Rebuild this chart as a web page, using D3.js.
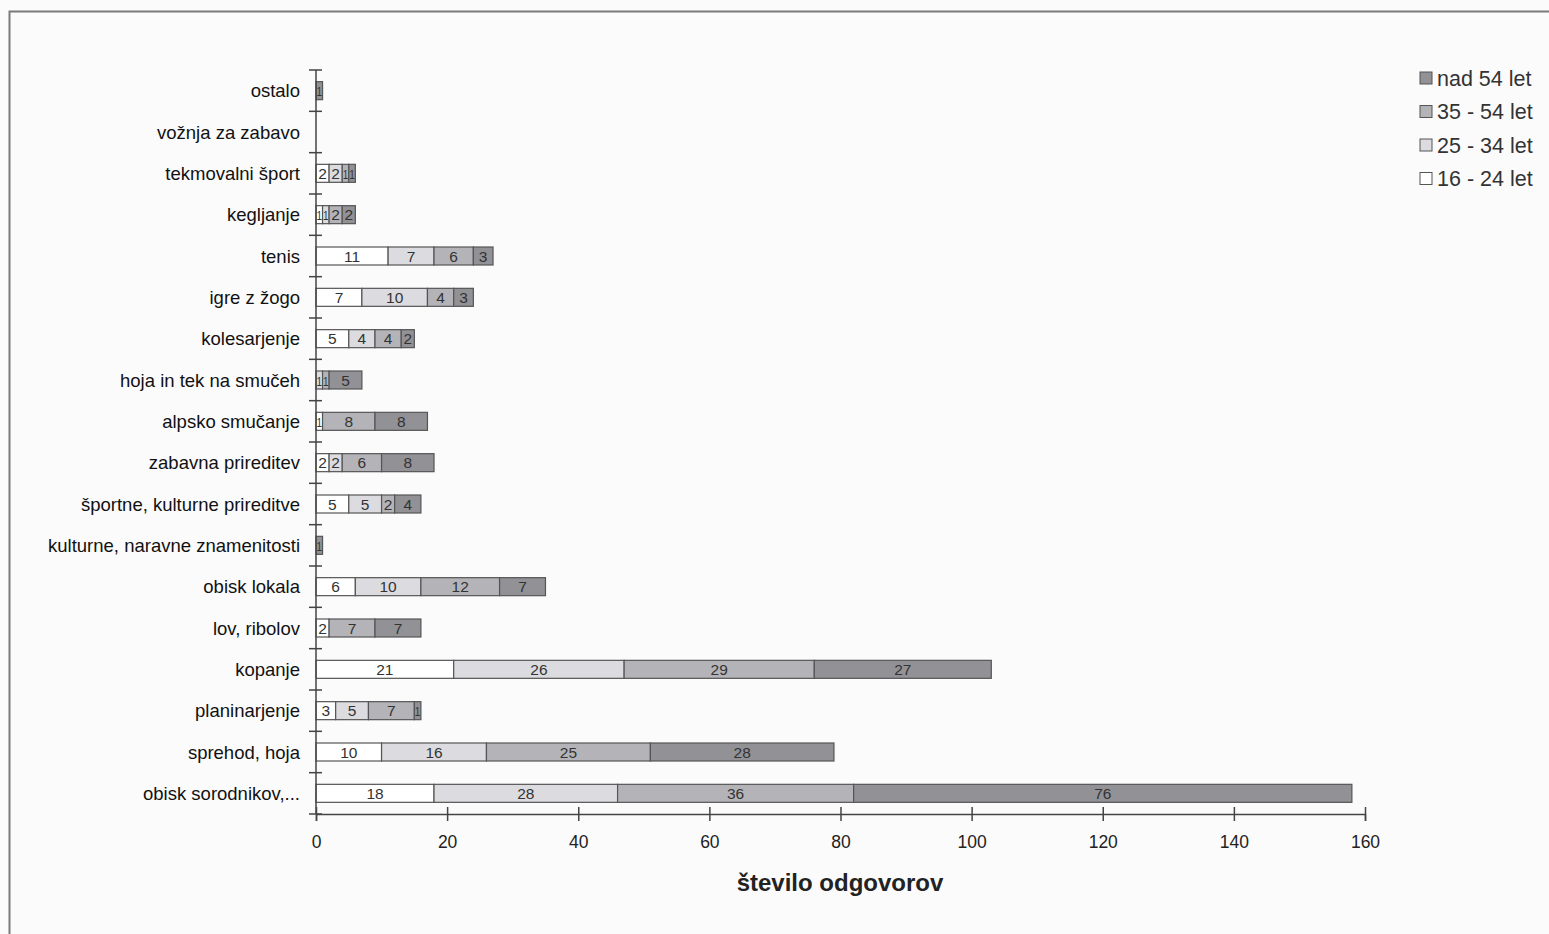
<!DOCTYPE html>
<html>
<head>
<meta charset="utf-8">
<script src="https://cdn.jsdelivr.net/npm/d3@7"></script>
<style>
html,body{margin:0;padding:0;background:#fbfbfb;}
svg{display:block;font-family:"Liberation Sans",Arial,sans-serif;}
</style>
</head>
<body>
<svg id="chart" width="1549" height="934"></svg>
<script>
// Categories, top to bottom
const categories = ["ostalo","vožnja za zabavo","tekmovalni šport","kegljanje","tenis","igre z žogo","kolesarjenje","hoja in tek na smučeh","alpsko smučanje","zabavna prireditev","športne, kulturne prireditve","kulturne, naravne znamenitosti","obisk lokala","lov, ribolov","kopanje","planinarjenje","sprehod, hoja","obisk sorodnikov,..."];
const seriesNames = ["16 - 24 let","25 - 34 let","35 - 54 let","nad 54 let"];
const age16_24 = [0,0,2,1,11,7,5,0,1,2,5,0,6,2,21,3,10,18];
const age25_34 = [0,0,2,1,7,10,4,1,0,2,5,0,10,0,26,5,16,28];
const age35_54 = [0,0,1,2,6,4,4,1,8,6,2,0,12,7,29,7,25,36];
const ageOver54 = [1,0,1,2,3,3,2,5,8,8,4,1,7,7,27,1,28,76];
const xTicks = [0,20,40,60,80,100,120,140,160];
const xTitle = "število odgovorov";
const colors = ["#ffffff","#dcdce0","#b4b4b8","#919196"];

const svg = d3.select("#chart");
// frame
svg.append("path").attr("d","M9.5,940 V11.5 H1560").attr("fill","none").attr("stroke","#7a7a7a").attr("stroke-width",2);

const x = d3.scaleLinear().domain([0,160]).range([316,1365]);
const y = d3.scaleBand().domain(categories).range([70,814]);

const rows = categories.map((c,i)=>({cat:c, vals:[age16_24[i],age25_34[i],age35_54[i],ageOver54[i]]}));
const stack = d3.stack().keys([0,1,2,3]).value((d,k)=>d.vals[k]);
const layers = stack(rows);

const barH = 18;
const g = svg.append("g");
layers.forEach((layer,k)=>{
  const lg = g.append("g");
  layer.forEach((seg,i)=>{
    const v = seg[1]-seg[0];
    if(v<=0) return;
    const cy = y(categories[i]) + y.bandwidth()/2;
    lg.append("rect")
      .attr("x", x(seg[0])).attr("y", cy-barH/2)
      .attr("width", x(seg[1])-x(seg[0])).attr("height", barH)
      .attr("fill", colors[k]).attr("stroke","#555").attr("stroke-width",1.2);
    const w = x(seg[1])-x(seg[0]);
    lg.append("text")
      .attr("x",(x(seg[0])+x(seg[1]))/2).attr("y",cy+5.5)
      .attr("text-anchor","middle")
      .attr("font-size", w<9 ? 12 : 15.5)
      .attr("fill","#333")
      .attr("textLength", w<9 ? Math.max(w-1,2) : null)
      .attr("lengthAdjust","spacingAndGlyphs")
      .text(v);
  });
});

// y axis
svg.append("line").attr("x1",316).attr("x2",316).attr("y1",70).attr("y2",814).attr("stroke","#444").attr("stroke-width",1.5);
const bounds = categories.map(c=>y(c)).concat([814]);
bounds.forEach(b=>{
  svg.append("line").attr("x1",309).attr("x2",322).attr("y1",b).attr("y2",b).attr("stroke","#444").attr("stroke-width",1.5);
});
categories.forEach(c=>{
  svg.append("text").attr("x",300).attr("y",y(c)+y.bandwidth()/2+6.5)
    .attr("text-anchor","end").attr("font-size",18.5).attr("fill","#111").text(c);
});

// x axis
const xAxis = d3.axisBottom(x).tickValues(xTicks).tickSize(7).tickPadding(15);
const xa = svg.append("g").attr("transform","translate(0,814)").call(xAxis);
xa.select(".domain").attr("stroke","#444").attr("stroke-width",1.5);
xa.selectAll(".tick line").attr("stroke","#444").attr("stroke-width",1.5).attr("y1",-7);
xa.selectAll(".tick text").attr("font-size",17.5).attr("fill","#222").attr("font-family","Liberation Sans, Arial, sans-serif");

svg.append("text").attr("x",840).attr("y",891).attr("text-anchor","middle")
  .attr("font-size",24).attr("font-weight","bold").attr("fill","#222").text(xTitle);

// legend (reverse order)
const legendOrder = [3,2,1,0];
legendOrder.forEach((k,i)=>{
  const ly = 78 + i*33.5;
  svg.append("rect").attr("x",1420).attr("y",ly-6).attr("width",12).attr("height",12)
    .attr("fill",colors[k]).attr("stroke","#555").attr("stroke-width",1);
  svg.append("text").attr("x",1437).attr("y",ly+7.5).attr("font-size",21.5).attr("fill","#333").text(seriesNames[k]);
});
</script>
</body>
</html>
